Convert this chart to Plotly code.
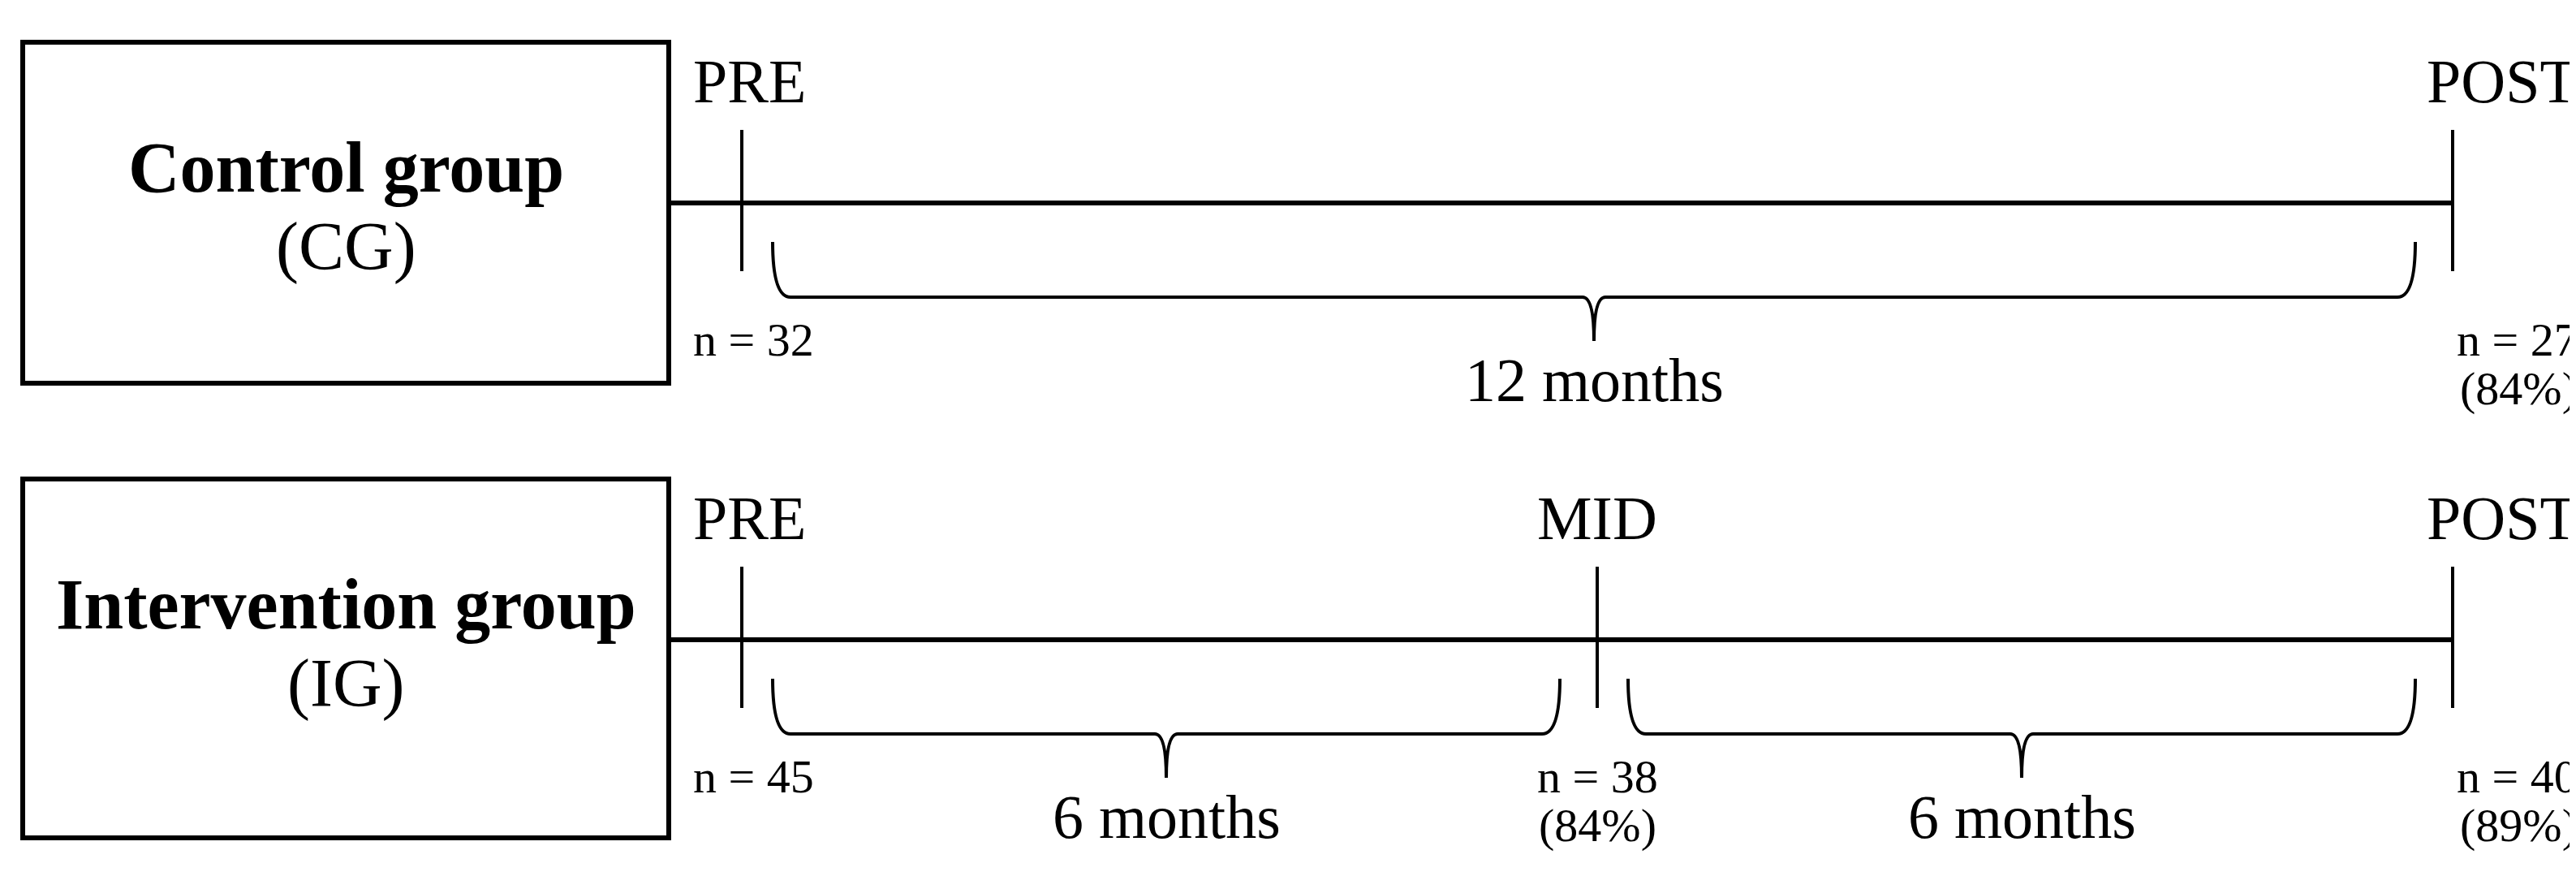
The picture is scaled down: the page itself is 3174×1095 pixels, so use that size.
import plotly.graph_objects as go

W, H = 3174, 1095
groups = ["Control group", "Intervention group"]
abbrev = ["(CG)", "(IG)"]
timepoints = [["PRE", "POST"], ["PRE", "MID", "POST"]]
tp_pos = {"PRE": 0.0, "MID": 0.5, "POST": 1.0}
n_values = [[32, 27], [45, 38, 40]]
retention = [[None, "84%"], [None, "84%", "89%"]]
intervals = [["12 months"], ["6 months", "6 months"]]

X0, X1 = 906, 3014
row_y = [242, 780]
FONT = "Liberation Serif"
fig = go.Figure()
shapes, ann = [], []

def xp(t):
    return X0 + (X1 - X0) * t

def anchor(p, x):
    if p == "PRE":
        return 844, "left"
    if p == "POST":
        return W - 4, "right"
    return x, "center"

for g in range(2):
    yc = row_y[g]
    shapes.append(dict(type="rect", x0=20, x1=816, y0=yc - 198, y1=yc + 222 if g == 0 else yc + 244,
                       line=dict(color="black", width=6)))
    ann.append(dict(x=418, y=yc - 44, text="<b>" + groups[g] + "</b>", showarrow=False,
                    font=dict(family=FONT, size=88, color="black")))
    ann.append(dict(x=418, y=yc + 54, text=abbrev[g], showarrow=False,
                    font=dict(family=FONT, size=84, color="black")))
    shapes.append(dict(type="line", x0=816, x1=X1, y0=yc, y1=yc, line=dict(color="black", width=6)))
    pts = timepoints[g]
    for i, p in enumerate(pts):
        x = xp(tp_pos[p])
        shapes.append(dict(type="line", x0=x, x1=x, y0=yc - 90, y1=yc + 84, line=dict(color="black", width=4)))
        ax, xa = anchor(p, x)
        ann.append(dict(x=ax, xanchor=xa, y=yc - 150, text=p, showarrow=False,
                        font=dict(family=FONT, size=76, color="black")))
        ann.append(dict(x=ax, xanchor=xa, y=yc + 168, text="n = %d" % n_values[g][i], showarrow=False,
                        font=dict(family=FONT, size=58, color="black")))
        if retention[g][i]:
            ann.append(dict(x=ax, xanchor=xa, y=yc + 228, text="(" + retention[g][i] + ")", showarrow=False,
                            font=dict(family=FONT, size=58, color="black")))
    for k, lab in enumerate(intervals[g]):
        a = xp(tp_pos[pts[k]]) + 38
        b = xp(tp_pos[pts[k + 1]]) - 46
        m = (a + b) / 2
        top, bot, tip = yc + 48, yc + 116, yc + 170
        path = (f"M {a},{top} Q {a},{bot} {a+22},{bot} L {m-14},{bot} "
                f"Q {m},{bot} {m},{tip} Q {m},{bot} {m+14},{bot} L {b-22},{bot} Q {b},{bot} {b},{top}")
        shapes.append(dict(type="path", path=path, line=dict(color="black", width=4)))
        ann.append(dict(x=m, y=yc + 218, text=lab, showarrow=False,
                        font=dict(family=FONT, size=76, color="black")))

fig.update_layout(width=W, height=H, margin=dict(l=0, r=0, t=0, b=0),
                  plot_bgcolor="white", paper_bgcolor="white",
                  xaxis=dict(range=[0, W], visible=False),
                  yaxis=dict(range=[H, 0], visible=False),
                  shapes=shapes, annotations=ann, showlegend=False)
fig.write_html("out.html")
